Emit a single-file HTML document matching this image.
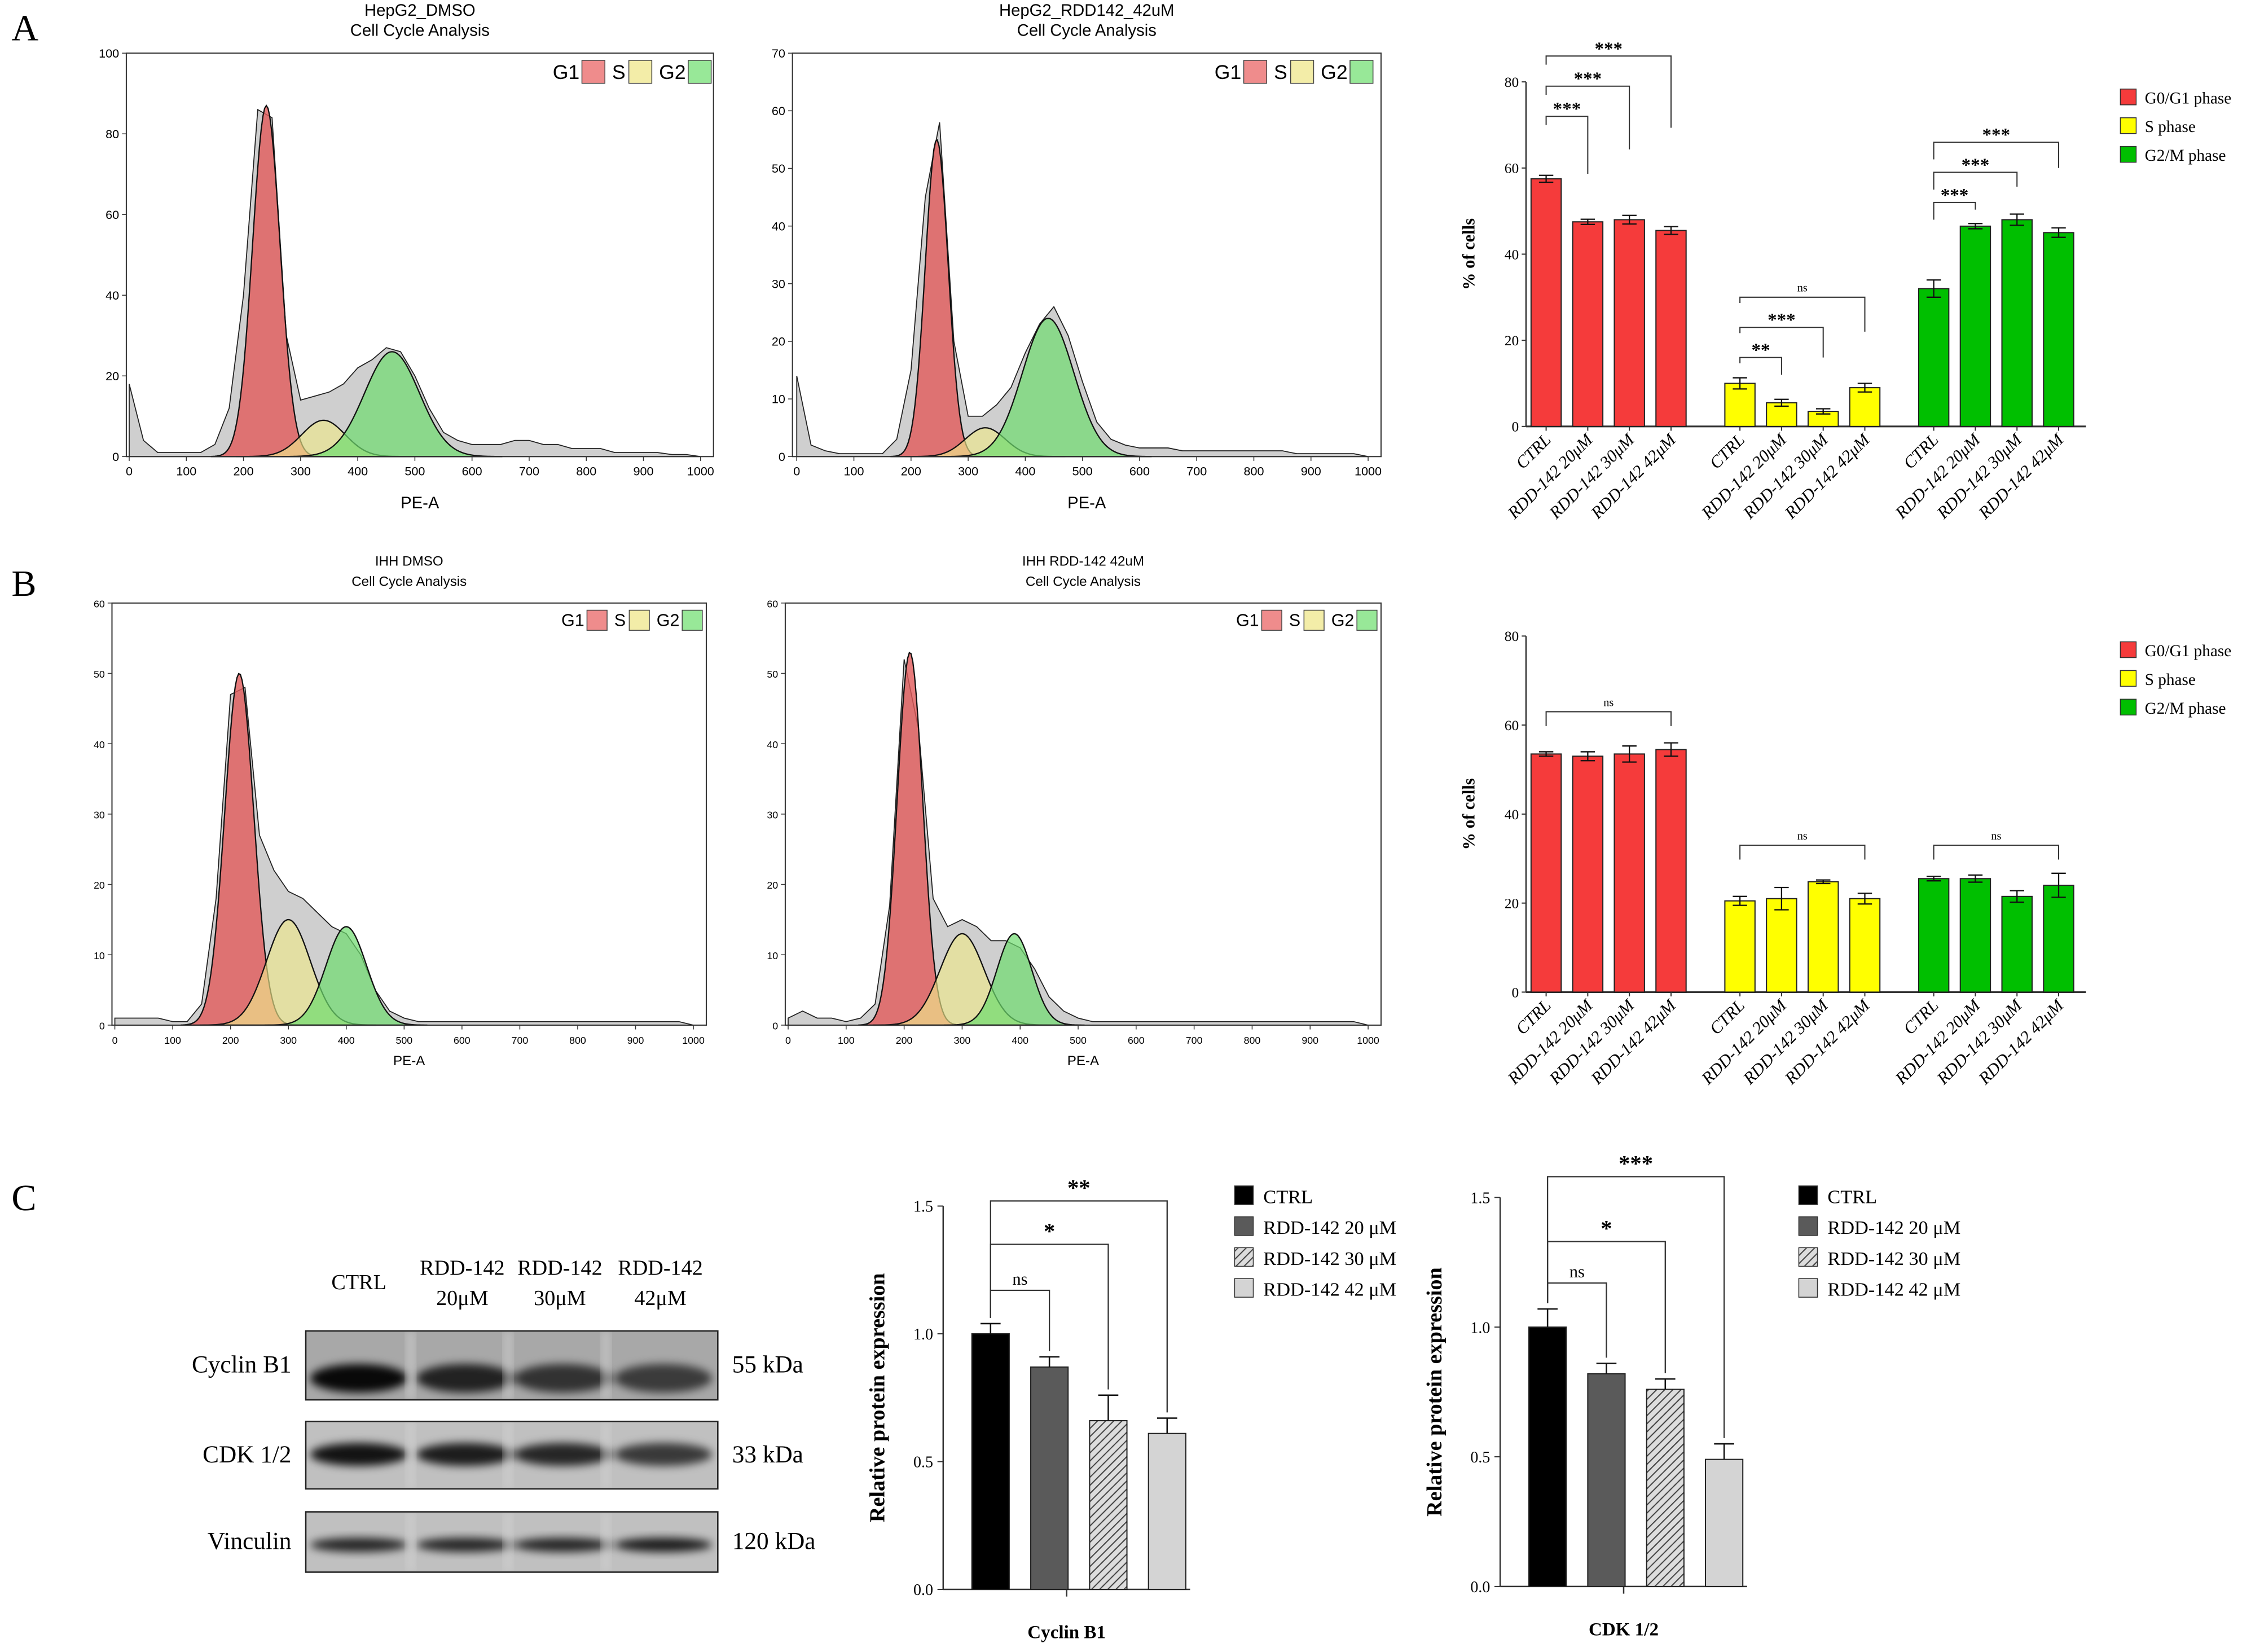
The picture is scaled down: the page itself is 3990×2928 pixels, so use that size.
<!DOCTYPE html>
<html><head><meta charset="utf-8"><style>
html,body{margin:0;padding:0;background:#fff;}
svg{display:block;}
.sans{font-family:"Liberation Sans",sans-serif;}
.serif{font-family:"Liberation Serif",serif;}
</style></head><body>
<svg id="fig" xmlns="http://www.w3.org/2000/svg" width="3990" height="2928" viewBox="0 0 1568 1150.6">
<defs>
<filter id="blur" x="-20%" y="-50%" width="140%" height="200%"><feGaussianBlur stdDeviation="3"/></filter>
<clipPath id="blotclip1"><rect x="213" y="927" width="287" height="48"/></clipPath>
<clipPath id="blotclip2"><rect x="213" y="990" width="287" height="47"/></clipPath>
<clipPath id="blotclip3"><rect x="213" y="1053" width="287" height="42"/></clipPath>
<pattern id="hatch" width="4" height="4" patternUnits="userSpaceOnUse" patternTransform="rotate(45)"><rect width="4" height="4" fill="#ddd"/><line x1="0" y1="0" x2="0" y2="4" stroke="#444" stroke-width="1.6"/></pattern>
</defs>
<text x="8" y="28" class="serif" font-size="26">A</text>
<text x="8" y="415" class="serif" font-size="26">B</text>
<text x="8" y="843" class="serif" font-size="26">C</text>
</svg>
<script>
const NS='http://www.w3.org/2000/svg';
const svg=document.getElementById('fig');
function mk(tag,attrs,parent){const e=document.createElementNS(NS,tag);for(const k in attrs)e.setAttribute(k,attrs[k]);(parent||svg).appendChild(e);return e;}
function txt(s,attrs,parent){const e=mk('text',attrs,parent);e.textContent=s;return e;}

/* ---------------- Histogram data ---------------- */
const histX=[0,25,50,75,100,125,150,175,200,225,250,275,300,325,350,375,400,425,450,475,500,525,550,575,600,625,650,675,700,725,750,775,800,825,850,875,900,925,950,975,1000];
const raw1=[18,4,1,1,1,1,3,12,40,86,84,30,14,15,16,18,22,24,27,26,20,12,6,4,3,3,3,4,4,3,3,2,2,2,1,1,1,1,0.5,0.5,0];
const raw2=[14,2,1,0.5,0.5,0.5,0.5,3,15,45,58,20,7,7,9,12,18,23,26,21,13,6,3,2,1.5,1.5,1.5,1,1,1,1,1,1,1,1,0.5,0.5,0.5,0.5,0.5,0];
const raw3=[1,1,1,1,0.5,0.5,3,18,47,48,27,22,19,18,16,14,13,10,5,2,1,0.5,0.5,0.5,0.5,0.5,0.5,0.5,0.5,0.5,0.5,0.5,0.5,0.5,0.5,0.5,0.5,0.5,0.5,0.5,0];
const raw4=[1,2,1,1,0.5,1,3,17,52,42,18,14,15,14,12,12,11,8,4,2,1,0.5,0.5,0.5,0.5,0.5,0.5,0.5,0.5,0.5,0.5,0.5,0.5,0.5,0.5,0.5,0.5,0.5,0.5,0.5,0];
/* fitted components: [mean, sd, height] for G1, S, G2 */
const fit1=[[240,24,87],[340,38,9],[460,48,26]];
const fit2=[[245,20,55],[330,35,5],[440,45,24]];
const fit3=[[215,25,50],[300,38,15],[400,35,14]];
const fit4=[[210,22,53],[300,38,13],[390,30,13]];

const compFill=['rgba(225,90,90,0.8)','rgba(238,232,140,0.65)','rgba(110,220,110,0.7)'];
function histogram(cfg){
  const g=mk('g',{});
  
  
  const b=cfg.box;
  const sx=v=>cfg.ax+v*cfg.k;
  const sy=v=>b.y1-v/cfg.ymax*(b.y1-b.y0);
  const t1=txt(cfg.title,{x:(b.x0+b.x1)/2,y:b.y0-26,'text-anchor':'middle','font-size':cfg.fs,class:'sans'},g);
  
  
  const t2=txt('Cell Cycle Analysis',{x:(b.x0+b.x1)/2,y:b.y0-12,'text-anchor':'middle','font-size':cfg.fs,class:'sans'},g);
  
  
  let d='M'+sx(histX[0])+','+sy(0);
  histX.forEach((x,i)=>{d+=' L'+sx(x)+','+sy(Math.min(cfg.raw[i],cfg.ymax));});
  d+=' L'+sx(1000)+','+sy(0)+' Z';
  const rp=mk('path',{d:d,fill:'#cfcfcf',stroke:'#222','stroke-width':0.7},g);
  
  
  const names=['g1-fit','s-fit','g2-fit'];
  cfg.fit.forEach((f,ci)=>{
    let p='M'+sx(f[0]-4*f[1])+','+sy(0);
    for(let v=f[0]-4*f[1];v<=f[0]+4*f[1];v+=3){p+=' L'+sx(v)+','+sy(f[2]*Math.exp(-0.5*((v-f[0])/f[1])**2));}
    p+=' L'+sx(f[0]+4*f[1])+','+sy(0)+' Z';
    const c=mk('path',{d:p,fill:compFill[ci],stroke:'#111','stroke-width':0.9},g);
    
    
  });
  const bx=mk('rect',{x:b.x0,y:b.y0,width:b.x1-b.x0,height:b.y1-b.y0,fill:'none',stroke:'#333','stroke-width':0.8},g);
  
  
  for(let v=0;v<=1000;v+=100){
    const l=mk('line',{x1:sx(v),x2:sx(v),y1:b.y1,y2:b.y1+3,stroke:'#333','stroke-width':0.6},g);
    
    
    const tt=txt(String(v),{x:sx(v),y:b.y1+13,'text-anchor':'middle','font-size':cfg.tfs,class:'sans'},g);
    
    
  }
  for(let v=0;v<=cfg.ymax;v+=cfg.ystep){
    const l=mk('line',{x1:b.x0-3,x2:b.x0,y1:sy(v),y2:sy(v),stroke:'#333','stroke-width':0.6},g);
    
    
    const tt=txt(String(v),{x:b.x0-5,y:sy(v)+3,'text-anchor':'end','font-size':cfg.tfs,class:'sans'},g);
    
    
  }
  const xl=txt('PE-A',{x:(b.x0+b.x1)/2,y:b.y1+cfg.xlOff,'text-anchor':'middle','font-size':cfg.fs,class:'sans'},g);
  
  
  const lg=mk('g',{},g);
  
  
  const lx=cfg.legX, ly=b.y0+5, s=cfg.legS;
  const items=[['G1','#ef8c8c'],['S','#f3eda8'],['G2','#98e898']];
  let cx=lx;
  items.forEach(it=>{
    txt(it[0],{x:cx,y:ly+s-3,'font-size':cfg.legFs,class:'sans'},lg);
    cx+=it[0].length*cfg.legFs*0.62+3;
    mk('rect',{x:cx,y:ly,width:s,height:s,fill:it[1],stroke:'#444','stroke-width':0.6},lg);
    cx+=s+5;
  });
}
histogram({name:'histogram-hepg2-dmso',box:{x0:88,x1:497,y0:37,y1:318},ax:90,k:0.398,ymax:100,ystep:20,raw:raw1,fit:fit1,title:'HepG2_DMSO',fs:11.5,tfs:8.5,xlOff:36,legX:385,legS:16,legFs:14});
histogram({name:'histogram-hepg2-rdd142',box:{x0:552,x1:962,y0:37,y1:318},ax:555,k:0.398,ymax:70,ystep:10,raw:raw2,fit:fit2,title:'HepG2_RDD142_42uM',fs:11.5,tfs:8.5,xlOff:36,legX:846,legS:16,legFs:14});
histogram({name:'histogram-ihh-dmso',box:{x0:78,x1:492,y0:420,y1:714},ax:80,k:0.403,ymax:60,ystep:10,raw:raw3,fit:fit3,title:'IHH DMSO',fs:9.5,tfs:7,xlOff:28,legX:391,legS:14,legFs:12});
histogram({name:'histogram-ihh-rdd142',box:{x0:547,x1:962,y0:420,y1:714},ax:549,k:0.404,ymax:60,ystep:10,raw:raw4,fit:fit4,title:'IHH  RDD-142 42uM',fs:9.5,tfs:7,xlOff:28,legX:861,legS:14,legFs:12});

/* ---------------- Grouped bar charts (A,B) ---------------- */
const phaseLabels=['CTRL','RDD-142 20μM','RDD-142 30μM','RDD-142 42μM'];
const phaseNames=['G0/G1 phase','S phase','G2/M phase'];
const phaseColors=['#f53b3b','#ffff00','#00bf00'];
const yTicksPct=[0,20,40,60,80];
const hepG1=[57.5,47.5,48,45.5], hepS=[10,5.5,3.5,9], hepG2=[32,46.5,48,45];
const hepG1e=[0.8,0.6,1,0.9], hepSe=[1.3,0.8,0.6,1], hepG2e=[2,0.6,1.3,1.1];
const ihhG1=[53.5,53,53.5,54.5], ihhS=[20.5,21,24.8,21], ihhG2=[25.5,25.5,21.5,24];
const ihhG1e=[0.5,1,1.8,1.5], ihhSe=[1,2.5,0.4,1.2], ihhG2e=[0.5,0.8,1.3,2.7];
const groupX=[1077,1212,1347], barStep=29, barW=21;

function groupedChart(cfg){
  const g=mk('g',{});
  
  
  const sy=v=>cfg.yb-v/80*(cfg.yb-cfg.yt);
  const ax=1063;
  const yax=mk('line',{x1:ax,x2:ax,y1:cfg.yt,y2:cfg.yb,stroke:'#333','stroke-width':1},g);
  
  
  const xax=mk('line',{x1:ax,x2:1453,y1:cfg.yb,y2:cfg.yb,stroke:'#333','stroke-width':1.2},g);
  
  
  yTicksPct.forEach(v=>{
    mk('line',{x1:ax-3,x2:ax,y1:sy(v),y2:sy(v),stroke:'#333','stroke-width':0.8},g);
    const t=txt(String(v),{x:ax-5,y:sy(v)+3.5,'text-anchor':'end','font-size':10,class:'serif'},g);
    
    
  });
  const yl=txt('%  of cells',{x:0,y:0,'text-anchor':'middle','font-size':12,'font-weight':'bold',class:'serif',transform:`translate(1027,${(cfg.yt+cfg.yb)/2}) rotate(-90)`},g);
  
  
  cfg.series.forEach((vals,si)=>{
    vals.forEach((v,i)=>{
      const cx=groupX[si]+i*barStep;
      const r=mk('rect',{x:cx-barW/2,y:sy(v),width:barW,height:sy(0)-sy(v),fill:phaseColors[si],stroke:'#222','stroke-width':0.8},g);
      
      
      const e=cfg.errs[si][i];
      const eb=mk('path',{d:`M${cx},${sy(v+e)} V${sy(v-e)} M${cx-5},${sy(v+e)} H${cx+5} M${cx-5},${sy(v-e)} H${cx+5}`,stroke:'#111','stroke-width':0.9,fill:'none'},g);
      
      
      mk('line',{x1:cx,x2:cx,y1:cfg.yb,y2:cfg.yb+3,stroke:'#333','stroke-width':0.8},g);
      const lt=txt(phaseLabels[i],{x:0,y:0,'text-anchor':'end','font-size':12,'font-style':'italic',class:'serif',transform:`translate(${cx+4},${cfg.yb+10}) rotate(-45)`},g);
      
      
    });
  });
  cfg.brackets.forEach(bk=>{
    const x1=groupX[bk[0]]+bk[1]*barStep, x2=groupX[bk[0]]+bk[2]*barStep, y=sy(bk[3]);
    const p=mk('path',{d:`M${x1},${y+(bk[5]||10)} V${y} H${x2} V${y+(bk[6]||10)}`,stroke:'#333','stroke-width':0.8,fill:'none'},g);
    
    
    const ns=bk[4]==='ns';
    const t=txt(bk[4],{x:(x1+x2)/2,y:y-(ns?4:1),'text-anchor':'middle','font-size':ns?8:13,'font-weight':ns?'normal':'bold',class:'serif'},g);
    
    
  });
  phaseNames.forEach((n,i)=>{
    const y=cfg.legY+i*20;
    const r=mk('rect',{x:1477,y:y-9,width:11,height:11,fill:phaseColors[i],stroke:'#333','stroke-width':0.6},g);
    
    
    const t=txt(n,{x:1494,y:y+1,'font-size':11.5,class:'serif'},g);
    
    
  });
}
groupedChart({name:'bar-chart-hepg2',yt:57,yb:297,series:[hepG1,hepS,hepG2],errs:[hepG1e,hepSe,hepG2e],legY:71,
 brackets:[[0,0,1,72,'***',6,40],[0,0,2,79,'***',6,44],[0,0,3,86,'***',6,50],
           [1,0,1,16,'**',4,12],[1,0,2,23,'***',4,21],[1,0,3,30,'ns',4,24],
           [2,0,1,52,'***',12,5],[2,0,2,59,'***',12,10],[2,0,3,66,'***',12,18]]});
groupedChart({name:'bar-chart-ihh',yt:443,yb:691,series:[ihhG1,ihhS,ihhG2],errs:[ihhG1e,ihhSe,ihhG2e],legY:456,
 brackets:[[0,0,3,63,'ns',0,0],[1,0,3,33,'ns',0,0],[2,0,3,33,'ns',0,0]]});

/* ---------------- Western blot ---------------- */
const blotG=mk('g',{});


const laneX=[250,322,390,460];
const laneHead=[['CTRL',''],['RDD-142','20μM'],['RDD-142','30μM'],['RDD-142','42μM']];
laneHead.forEach((h,i)=>{
  const t=txt(h[0],{x:laneX[i],y:i?888:898,'text-anchor':'middle','font-size':15,class:'serif'},blotG);
  
  
  if(h[1]){const t2=txt(h[1],{x:laneX[i],y:909,'text-anchor':'middle','font-size':15,class:'serif'},blotG);
  
  }
});
const blotRows=[['Cyclin B1','55 kDa',927,48,[0.95,0.8,0.7,0.65],960,10],['CDK 1/2','33 kDa',990,47,[0.9,0.85,0.8,0.7],1013,8],['Vinculin','120 kDa',1053,42,[0.8,0.8,0.8,0.85],1076,5]];
blotRows.forEach((r,ri)=>{
  const bg=mk('rect',{x:213,y:r[2],width:287,height:r[3],fill:ri==0?'#a8a8a8':'#c0c0c0'},blotG);
  
  
  const cg=mk('g',{'clip-path':`url(#blotclip${ri+1})`},blotG);
  laneX.forEach((lx,i)=>{
    const band=mk('ellipse',{cx:lx+(i?2:0),cy:r[5],rx:34,ry:r[6],fill:'#000','fill-opacity':r[4][i],filter:'url(#blur)'},cg);
    
    
  });
  [286,354,422].forEach(sx=>mk('rect',{x:sx-3,y:r[2],width:6,height:r[3],fill:'#d4d4d4','fill-opacity':0.6,filter:'url(#blur)'},cg));
  mk('rect',{x:213,y:r[2],width:287,height:r[3],fill:'none',stroke:'#222','stroke-width':1},blotG);
  const lt=txt(r[0],{x:203,y:r[2]+r[3]/2+5,'text-anchor':'end','font-size':17,class:'serif'},blotG);
  
  
  const kt=txt(r[1],{x:510,y:r[2]+r[3]/2+5,'font-size':17,class:'serif'},blotG);
  
  
});

/* ---------------- Protein bar charts (C) ---------------- */
const protLabels=['CTRL','RDD-142 20 μM','RDD-142 30 μM','RDD-142 42 μM'];
const protFills=['#000','#5a5a5a','url(#hatch)','#d4d4d4'];
const protTicks=[0,0.5,1,1.5];
const cyclinVals=[1.0,0.87,0.66,0.61], cyclinErr=[0.04,0.04,0.1,0.06];
const cdkVals=[1.0,0.82,0.76,0.49], cdkErr=[0.07,0.04,0.04,0.06];
function protChart(cfg){
  const g=mk('g',{});
  
  
  const sy=v=>cfg.yb-v/1.5*(cfg.yb-cfg.yt);
  const ax=cfg.ax;
  const ya=mk('line',{x1:ax,x2:ax,y1:cfg.yt,y2:cfg.yb,stroke:'#333','stroke-width':1},g);
  
  
  const xa=mk('line',{x1:ax,x2:ax+172,y1:cfg.yb,y2:cfg.yb,stroke:'#333','stroke-width':1},g);
  
  
  mk('line',{x1:ax+86,x2:ax+86,y1:cfg.yb,y2:cfg.yb+5,stroke:'#333','stroke-width':1},g);
  protTicks.forEach(v=>{
    mk('line',{x1:ax-4,x2:ax,y1:sy(v),y2:sy(v),stroke:'#333','stroke-width':0.8},g);
    const t=txt(v.toFixed(1),{x:ax-7,y:sy(v)+4,'text-anchor':'end','font-size':11,class:'serif'},g);
    
    
  });
  const yl=txt('Relative protein expression',{x:0,y:0,'text-anchor':'middle','font-size':15,'font-weight':'bold',class:'serif',transform:`translate(${ax-41},${(cfg.yt+cfg.yb)/2}) rotate(-90)`},g);
  
  
  cfg.vals.forEach((v,i)=>{
    const cx=ax+33+i*41;
    const r=mk('rect',{x:cx-13,y:sy(v),width:26,height:sy(0)-sy(v),fill:protFills[i],stroke:'#222','stroke-width':0.8},g);
    
    
    const e=cfg.err[i];
    const eb=mk('path',{d:`M${cx},${sy(v)} V${sy(v+e)} M${cx-7},${sy(v+e)} H${cx+7}`,stroke:'#111','stroke-width':1,fill:'none'},g);
    
    
  });
  cfg.brackets.forEach(bk=>{
    const x1=ax+33, x2=ax+33+bk[0]*41, y=sy(bk[1]);
    const p=mk('path',{d:`M${x1},${sy(cfg.vals[0]+cfg.err[0])-4} V${y} H${x2} V${sy(cfg.vals[bk[0]]+cfg.err[bk[0]])-4}`,stroke:'#333','stroke-width':0.9,fill:'none'},g);
    
    
    const ns=bk[2]==='ns';
    const t=txt(bk[2],{x:(x1+x2)/2,y:y-4,'text-anchor':'middle','font-size':ns?12:16,'font-weight':ns?'normal':'bold',class:'serif'},g);
    
    
  });
  const xt=txt(cfg.title,{x:ax+86,y:cfg.yb+34,'text-anchor':'middle','font-size':13,'font-weight':'bold',class:'serif'},g);
  
  
  protLabels.forEach((n,i)=>{
    const y=cfg.legY+i*21.5;
    const r=mk('rect',{x:cfg.legX,y:y-11,width:13,height:13,fill:protFills[i],stroke:'#333','stroke-width':0.6},g);
    
    
    const t=txt(n,{x:cfg.legX+20,y:y+1,'font-size':13.5,class:'serif'},g);
    
    
  });
}
protChart({name:'bar-chart-cyclin-b1',ax:657,yt:840,yb:1107,vals:cyclinVals,err:cyclinErr,title:'Cyclin B1',legX:860,legY:837,
  brackets:[[1,1.17,'ns'],[2,1.35,'*'],[3,1.52,'**']]});
protChart({name:'bar-chart-cdk12',ax:1045,yt:834,yb:1105,vals:cdkVals,err:cdkErr,title:'CDK 1/2',legX:1253,legY:837,
  brackets:[[1,1.17,'ns'],[2,1.33,'*'],[3,1.58,'***']]});
</script>
</body></html>
